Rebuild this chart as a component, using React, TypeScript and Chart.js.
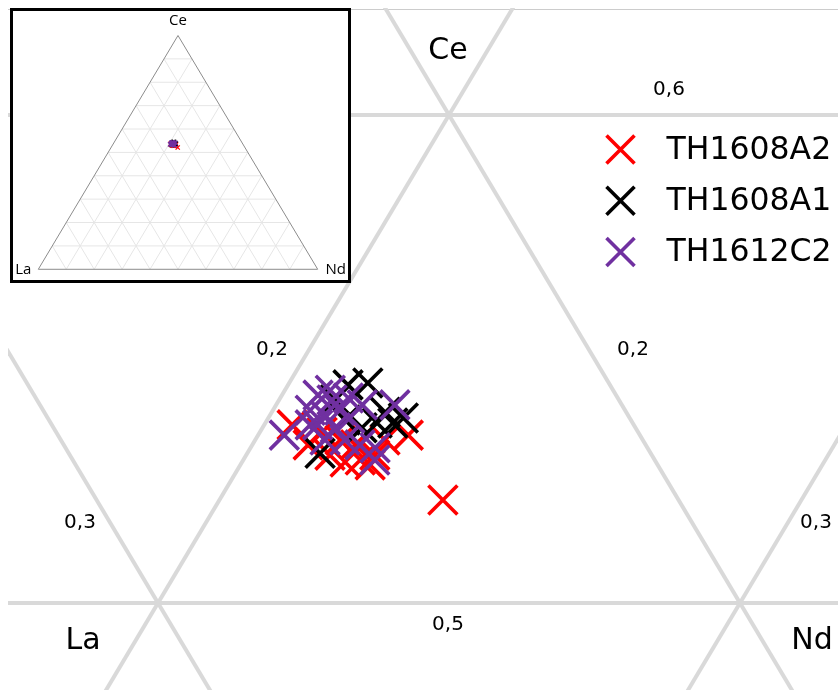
import React, { useEffect, useRef } from "react";
import { Chart, registerables } from "chart.js";
Chart.register(...registerables);

// ---------- data (ternary compositions, fractions) ----------
const seriesNames = ["TH1608A2", "TH1608A1", "TH1612C2"];
const seriesColors = ["#ff0000", "#000000", "#7030a0"];

// TH1608A2
const a2La = [0.2405, 0.2587, 0.2580, 0.2553, 0.2534, 0.2506, 0.2476, 0.2398, 0.2520, 0.2499, 0.2543, 0.2443, 0.2494];
const a2Ce = [0.5211, 0.5365, 0.5324, 0.5303, 0.5289, 0.5293, 0.5303, 0.5344, 0.5334, 0.5324, 0.5350, 0.5334, 0.5283];
const a2Nd = [0.2384, 0.2048, 0.2096, 0.2144, 0.2177, 0.2201, 0.2221, 0.2258, 0.2146, 0.2177, 0.2107, 0.2223, 0.2223];

// TH1608A1
const a1La = [0.2450, 0.2414, 0.2439, 0.2412, 0.2389, 0.2568, 0.2470, 0.2491, 0.2414, 0.2488];
const a1Ce = [0.5447, 0.5451, 0.5369, 0.5369, 0.5379, 0.5307, 0.5359, 0.5375, 0.5391, 0.5416];
const a1Nd = [0.2103, 0.2135, 0.2192, 0.2219, 0.2232, 0.2125, 0.2171, 0.2134, 0.2195, 0.2096];

// TH1612C2
const c2La = [0.2611, 0.2512, 0.2493, 0.2541, 0.2521, 0.2490, 0.2543, 0.2516, 0.2481, 0.2446, 0.2390, 0.2546, 0.2512, 0.2491, 0.2468, 0.2486, 0.2463, 0.2556, 0.2481];
const c2Ce = [0.5344, 0.5426, 0.5416, 0.5395, 0.5385, 0.5395, 0.5365, 0.5359, 0.5379, 0.5406, 0.5406, 0.5334, 0.5334, 0.5324, 0.5318, 0.5436, 0.5420, 0.5365, 0.5293];
const c2Nd = [0.2045, 0.2062, 0.2091, 0.2064, 0.2094, 0.2115, 0.2092, 0.2125, 0.2140, 0.2148, 0.2204, 0.2120, 0.2154, 0.2185, 0.2214, 0.2078, 0.2117, 0.2079, 0.2226];

const gridTicks = [0.1, 0.2, 0.3, 0.4, 0.5, 0.6, 0.7, 0.8, 0.9];
const vertexNames = ["La", "Ce", "Nd"];
// zoomed cell: Ce 0.5–0.6, La 0.2–0.3, Nd 0.2–0.3
const tickLabels = ["0,6", "0,5", "0,2", "0,2", "0,3", "0,3"];

// ---------- helpers ----------
const toXY = (la: number, ce: number, nd: number) => {
  const s = la + ce + nd;
  return { x: (nd + ce / 2) / s, y: ce / s };
};

const series = [
  { la: a2La, ce: a2Ce, nd: a2Nd },
  { la: a1La, ce: a1Ce, nd: a1Nd },
  { la: c2La, ce: c2Ce, nd: c2Nd },
];

function lineDs(pts: { x: number; y: number }[], color: string, width: number) {
  return {
    type: "scatter" as const,
    data: pts,
    showLine: true,
    borderColor: color,
    borderWidth: width,
    pointRadius: 0,
    pointHoverRadius: 0,
    fill: false,
    order: 100,
  };
}

function gridLines(ticks: number[], color: string, width: number) {
  const out: any[] = [];
  for (const t of ticks) {
    out.push(lineDs([toXY(1 - t, t, 0), toXY(0, t, 1 - t)], color, width)); // const Ce
    out.push(lineDs([toXY(t, 1 - t, 0), toXY(t, 0, 1 - t)], color, width)); // const La
    out.push(lineDs([toXY(0, 1 - t, t), toXY(1 - t, 0, t)], color, width)); // const Nd
  }
  return out;
}

function seriesDs(radius: number, bw: number) {
  return series.map((s, i) => ({
    type: "scatter" as const,
    label: seriesNames[i],
    data: s.la.map((_, k) => toXY(s.la[k], s.ce[k], s.nd[k])),
    pointStyle: "crossRot" as const,
    pointRadius: radius,
    pointHoverRadius: radius,
    borderColor: seriesColors[i],
    backgroundColor: seriesColors[i],
    pointBorderWidth: bw,
    borderWidth: bw,
    showLine: false,
    order: 3 - i,
  }));
}

const mainDecor = {
  id: "mainDecor",
  beforeDatasetsDraw(chart: any) {
    const { ctx, width } = chart;
    ctx.save();
    ctx.strokeStyle = "#cccccc";
    ctx.lineWidth = 1;
    ctx.beginPath();
    ctx.moveTo(0, 1.5);
    ctx.lineTo(width, 1.5);
    ctx.stroke();
    ctx.restore();
  },
  afterDatasetsDraw(chart: any) {
    const { ctx } = chart;
    const sx = chart.scales.x, sy = chart.scales.y;
    const P = (la: number, ce: number, nd: number) => {
      const p = toXY(la, ce, nd);
      return [sx.getPixelForValue(p.x), sy.getPixelForValue(p.y)];
    };
    const vCe = P(0.2, 0.6, 0.2);
    const vLa = P(0.3, 0.5, 0.2);
    const vNd = P(0.2, 0.5, 0.3);
    ctx.save();
    ctx.fillStyle = "#000";
    ctx.textAlign = "center";
    ctx.textBaseline = "middle";
    ctx.font = "30px 'DejaVu Sans'";
    ctx.fillText(vertexNames[1], vCe[0] - 1, vCe[1] - 64);
    ctx.fillText(vertexNames[0], vLa[0] - 75, vLa[1] + 38);
    ctx.fillText(vertexNames[2], vNd[0] + 72, vNd[1] + 38);
    ctx.font = "20px 'DejaVu Sans'";
    const mid = (vLa[0] + vNd[0]) / 2;
    ctx.fillText(tickLabels[0], vCe[0] + 220, vCe[1] - 25);
    ctx.fillText(tickLabels[1], mid - 1, vLa[1] + 22);
    ctx.fillText(tickLabels[2], vLa[0] + 114, vLa[1] - 253);
    ctx.fillText(tickLabels[3], vNd[0] - 107, vNd[1] - 253);
    ctx.fillText(tickLabels[4], vLa[0] - 78, vLa[1] - 80);
    ctx.fillText(tickLabels[5], vNd[0] + 76, vNd[1] - 80);

    // legend
    const lx = 612.5, ly0 = 141.5, dy = 51.3, h = 14;
    ctx.lineWidth = 3.6;
    ctx.textAlign = "left";
    ctx.font = "31.5px 'DejaVu Sans'";
    seriesNames.forEach((n, i) => {
      const y = ly0 + i * dy;
      ctx.strokeStyle = seriesColors[i];
      ctx.beginPath();
      ctx.moveTo(lx - h, y - h);
      ctx.lineTo(lx + h, y + h);
      ctx.moveTo(lx - h, y + h);
      ctx.lineTo(lx + h, y - h);
      ctx.stroke();
      ctx.fillStyle = "#000";
      ctx.fillText(n, 658.5, y + 1);
    });
    ctx.restore();
  },
};

const insetDecor = {
  id: "insetDecor",
  afterDatasetsDraw(chart: any) {
    const { ctx } = chart;
    const sx = chart.scales.x, sy = chart.scales.y;
    const P = (la: number, ce: number, nd: number) => {
      const p = toXY(la, ce, nd);
      return [sx.getPixelForValue(p.x), sy.getPixelForValue(p.y)];
    };
    const vCe = P(0, 1, 0), vLa = P(1, 0, 0), vNd = P(0, 0, 1);
    ctx.save();
    ctx.fillStyle = "#000";
    ctx.textAlign = "center";
    ctx.textBaseline = "middle";
    ctx.font = "15px 'Open Sans'";
    ctx.fillText(vertexNames[1], vCe[0], vCe[1] - 15);
    ctx.fillText(vertexNames[0], vLa[0] - 15, vLa[1]);
    ctx.fillText(vertexNames[2], vNd[0] + 18, vNd[1]);
    ctx.restore();
  },
};

export default function App() {
  const mainRef = useRef<HTMLCanvasElement>(null);
  const insetRef = useRef<HTMLCanvasElement>(null);

  useEffect(() => {
    const body = document.body;
    const prevR = body.style.marginRight;
    const prevB = body.style.marginBottom;
    body.style.marginRight = "0px";
    body.style.marginBottom = "0px";

    const main = new Chart(mainRef.current as HTMLCanvasElement, {
      type: "scatter",
      data: { datasets: [...gridLines(gridTicks, "#d9d9d9", 4), ...seriesDs(20.5, 3.6)] as any },
      options: {
        animation: false,
        responsive: false,
        devicePixelRatio: 1,
        events: [],
        layout: { padding: 0, autoPadding: false },
        plugins: { legend: { display: false }, tooltip: { enabled: false } },
        scales: {
          x: { type: "linear", min: 0.424227, max: 0.566838, display: false },
          y: { type: "linear", min: 0.482172, max: 0.621926, display: false },
        },
      },
      plugins: [mainDecor],
    });

    const edge = lineDs([toXY(1, 0, 0), toXY(0, 1, 0), toXY(0, 0, 1), toXY(1, 0, 0)], "#8c8c8c", 1);
    const inset = new Chart(insetRef.current as HTMLCanvasElement, {
      type: "scatter",
      data: { datasets: [edge, ...gridLines(gridTicks, "#e6e6e6", 1), ...seriesDs(3, 1.2)] as any },
      options: {
        animation: false,
        responsive: false,
        devicePixelRatio: 1,
        events: [],
        layout: { padding: 0, autoPadding: false },
        plugins: { legend: { display: false }, tooltip: { enabled: false } },
        scales: {
          x: { type: "linear", min: -0.0906, max: 1.1085, display: false },
          y: { type: "linear", min: -0.0458, max: 1.1048, display: false },
        },
      },
      plugins: [insetDecor],
    });

    return () => {
      main.destroy();
      inset.destroy();
      body.style.marginRight = prevR;
      body.style.marginBottom = prevB;
    };
  }, []);

  return (
    <div style={{ position: "relative", width: 830, height: 682 }}>
      <canvas
        ref={mainRef}
        width={830}
        height={682}
        style={{ position: "absolute", left: 0, top: 0, width: 830, height: 682 }}
      />
      <div
        style={{
          position: "absolute",
          left: 2,
          top: 0,
          width: 341,
          height: 275,
          border: "3px solid #000",
          boxSizing: "border-box",
          background: "#fff",
        }}
      >
        <canvas ref={insetRef} width={335} height={269} style={{ display: "block", width: 335, height: 269 }} />
      </div>
    </div>
  );
}
